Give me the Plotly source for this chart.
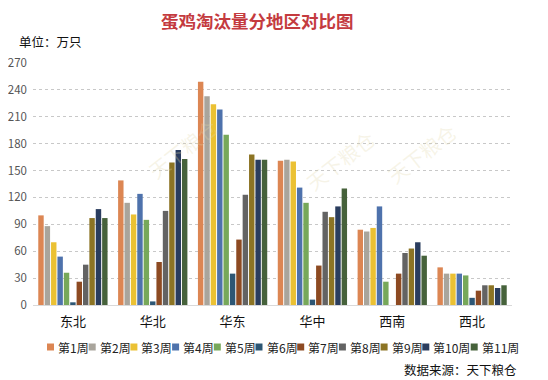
import plotly.graph_objects as go

regions = ["东北", "华北", "华东", "华中", "西南", "西北"]
weeks = ["第1周", "第2周", "第3周", "第4周", "第5周", "第6周",
         "第7周", "第8周", "第9周", "第10周", "第11周"]

w1 = [100, 139, 249, 161, 84, 42]
w2 = [88, 114, 233, 162, 82, 35]
w3 = [70, 101, 224, 160, 86, 35]
w4 = [54, 124, 218, 131, 110, 35]
w5 = [36, 95, 190, 114, 26, 33]
w6 = [3, 4, 35, 6, 0, 8]
w7 = [26, 48, 73, 44, 35, 16]
w8 = [45, 105, 123, 104, 58, 22]
w9 = [97, 159, 168, 98, 63, 22]
w10 = [107, 173, 162, 110, 70, 19]
w11 = [97, 163, 162, 130, 55, 22]
series = [w1, w2, w3, w4, w5, w6, w7, w8, w9, w10, w11]

colors = ["#DC8653", "#A9A59C", "#EBC133", "#4E72AC", "#77A85A", "#2D5674",
          "#8D4A22", "#636363", "#8C7424", "#2A3D5E", "#46623B"]

y_ticks = [0, 30, 60, 90, 120, 150, 180, 210, 240, 270]

# page body has an 8px margin; the figure is drawn offset by it
OFF = 8
W, H = 548, 380
L, R, T, B = 33, 512, 63, 305
FONT = "Noto Sans CJK SC, Microsoft YaHei, sans-serif"

def px(x):
    return (x - L) / (R - L)

def py(y):
    return (B - y) / (B - T)

fig = go.Figure()
for name, vals, c in zip(weeks, series, colors):
    fig.add_trace(go.Bar(x=regions, y=vals, name=name, marker_color=c,
                         marker_line_width=0, showlegend=False))

fig.update_layout(
    width=W - OFF, height=H - OFF,
    margin=dict(l=L - OFF, r=W - R, t=T - OFF, b=H - B, autoexpand=False),
    paper_bgcolor="white", plot_bgcolor="white",
    barmode="group", bargap=0.12, bargroupgap=0.15,
    font=dict(family=FONT, size=12, color="#333333"),
    xaxis=dict(showline=True, linecolor="#D9D9D9", linewidth=1, ticks="",
               automargin=False, ticklabelstandoff=4,
               tickfont=dict(size=13, color="#111111"), showgrid=False),
    yaxis=dict(range=[0, 270], tickvals=y_ticks, showgrid=True,
               gridcolor="#C8C8C8", griddash="dot", gridwidth=1,
               zeroline=False, ticks="", ticklabelstandoff=5, automargin=False,
               tickfont=dict(size=11.5, color="#555555")),
)

# title and texts
fig.add_annotation(text="<b>蛋鸡淘汰量分地区对比图</b>", xref="paper", yref="paper",
                   x=px(257), y=py(21), xanchor="center", yanchor="middle",
                   showarrow=False, font=dict(size=17.5, color="#C43B3F", family=FONT))
fig.add_annotation(text="单位：万只", xref="paper", yref="paper",
                   x=px(17), y=py(42), xanchor="left", yanchor="middle",
                   showarrow=False, font=dict(size=12.5, color="#111111"))
fig.add_annotation(text="数据来源：天下粮仓", xref="paper", yref="paper",
                   x=px(519), y=py(369), xanchor="right", yanchor="middle",
                   showarrow=False, font=dict(size=12.5, color="#111111"))

# faint watermarks
for wx, wy in [(140, 110), (340, 160), (465, 115)]:
    fig.add_annotation(text="天下粮仓", xref="paper", yref="paper",
                       x=px(wx), y=py(wy), showarrow=False, textangle=-38,
                       font=dict(size=20, color="rgba(225,215,170,0.28)"))

# manual legend
x = 47
ly = 347
for name, c in zip(weeks, colors):
    fig.add_shape(type="rect", xref="paper", yref="paper",
                  x0=px(x), x1=px(x + 7), y0=py(ly + 3.5), y1=py(ly - 3.5),
                  fillcolor=c, line_width=0)
    fig.add_annotation(text=name, xref="paper", yref="paper",
                       x=px(x + 9), y=py(ly), xanchor="left", yanchor="middle",
                       showarrow=False, font=dict(size=12, color="#222222"))
    digits = sum(ch.isdigit() for ch in name)
    tw = 12 * (len(name) - digits) + 6.7 * digits
    x += 11 + tw

# right border line
fig.add_shape(type="line", xref="paper", yref="paper",
              x0=px(545.5), x1=px(545.5), y0=py(0), y1=py(380),
              line=dict(color="#333333", width=1.5))

fig.write_html("out.html")
